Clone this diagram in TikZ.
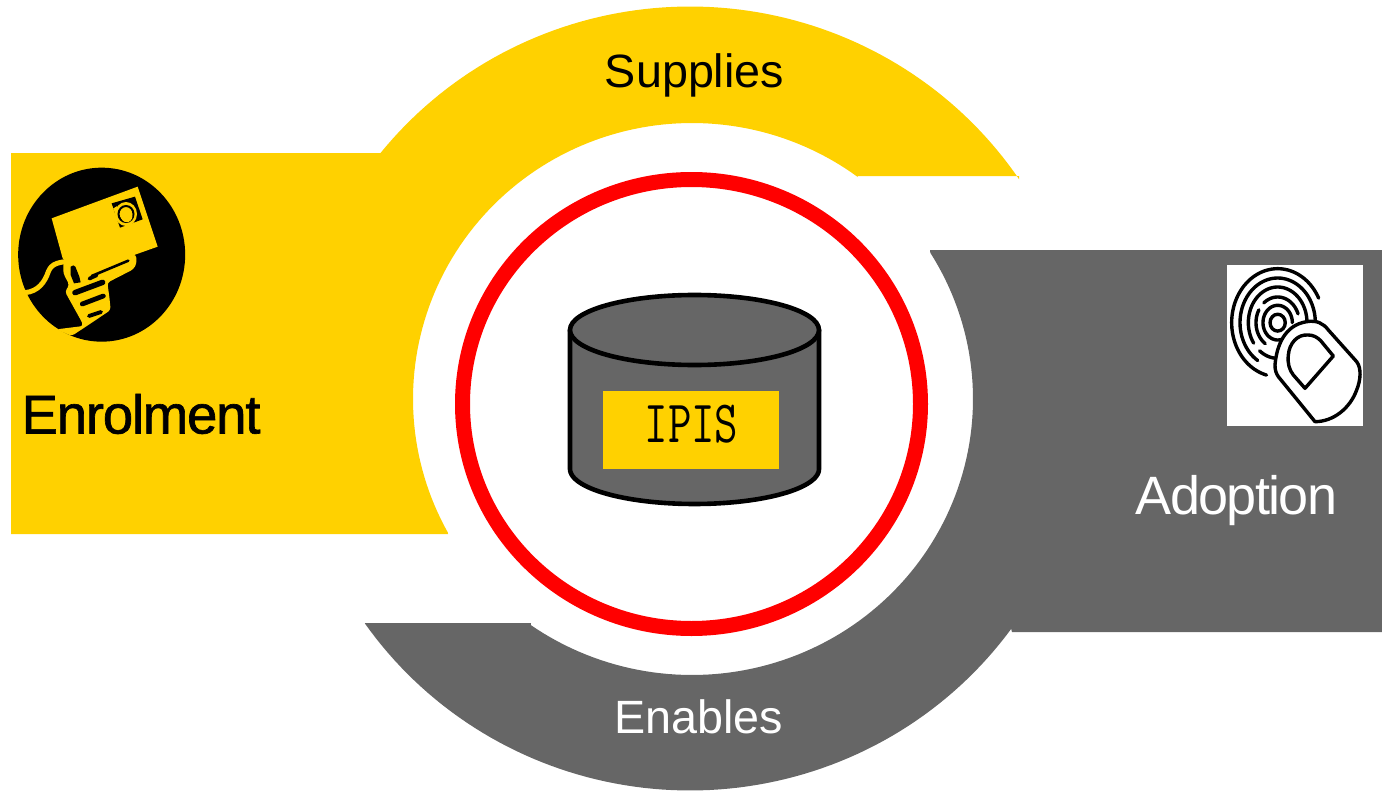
\documentclass[tikz,border=0pt]{standalone}
\usepackage{fontspec}
\setmainfont{Liberation Sans}
\newfontfamily\fakeb[FakeBold=1.2,LetterSpace=-2.2]{Liberation Sans}
\newfontfamily\fakec[LetterSpace=-3.2]{Liberation Sans}
\definecolor{ipisyellow}{HTML}{FFD100}
\definecolor{ipisgray}{HTML}{666666}
\tikzset{
  band/.style={fill=#1,draw=none},
  lab/.style={inner sep=0pt,anchor=center,font=\fontsize{46.7}{50}\selectfont},
  big/.style={inner sep=0pt,anchor=center},
  print/.style={draw=black,line width=3.4pt,line cap=round},
  bline/.style={draw=black,line cap=round,line join=round},
}
\begin{document}
\begin{tikzpicture}[x=1pt,y=-1pt]
\useasboundingbox (0,0) rectangle (1382,792);
% yellow band
\path[band=ipisyellow] (11,153) -- (380,153)
  -- plot[domain=141.3:34,samples=80] ({690+397*cos(\x)},{398.5-392*sin(\x)})
  -- (1019,176) -- (857,176)
  -- plot[domain=53.5:209,samples=100] ({692+279*cos(\x)},{399-276*sin(\x)})
  -- (448,534) -- (11,534) -- cycle;
% gray band
\path[band=ipisgray] (1382,250) -- (930,250)
  -- plot[domain=32:-125,samples=100] ({692+281*cos(\x)},{399-276*sin(\x)})
  -- (531,623) -- (366,623)
  -- plot[domain=215:324,samples=80] ({690+397*cos(\x)},{398.5-392*sin(\x)})
  -- (1012,632) -- (1382,632) -- cycle;
% ring
\draw[red,line width=15pt] (691.5,404) ellipse[x radius=229pt,y radius=224.5pt];
% cylinder
\path[fill=ipisgray,draw=black,line width=4.6pt,line join=round]
  (570,330) -- (570,469)
  -- plot[domain=180:360,samples=60] ({694.5+124.5*cos(\x)},{469-35*sin(\x)})
  -- (819,330) -- cycle;
\draw[fill=ipisgray,draw=black,line width=4.6pt] (694.5,330) ellipse[x radius=124.5pt,y radius=35pt];
\path[fill=ipisyellow] (603,391) rectangle (779,469);
\node[inner sep=0pt,xscale=0.76] (ipis) at (691.5,424) {\fontsize{60}{62}\selectfont\ttfamily IPIS};
% labels
\node[lab] (supplies) at (694.5,75) {Supplies};
\node[lab,white] (enables) at (698.5,717) {Enables};
\node[big] (enrolment) at (141,414) {\fakeb\fontsize{54.5}{58}\selectfont Enrolment};
\node[big,white] (adoption) at (1236.5,501) {\fakec\fontsize{54}{58}\selectfont Adoption};
% enrolment icon
\begin{scope}[shift={(0,150)},x=0.33333pt,y=-0.33333pt]
  \fill[black] (305,314) ellipse[x radius=83.5pt,y radius=87pt];
  % card
  \fill[ipisyellow] (155,205) -- (413,110) -- (473,290) -- (408,313)
     -- (240,370) -- (188,325) -- cycle;
  % arm
  \draw[ipisyellow,line width=5pt,line cap=butt,line join=round] (74,428)
     .. controls (115,425) and (135,395) .. (145,365)
     .. controls (155,340) and (175,335) .. (230,332);
  % hand
  \fill[ipisyellow,rounded corners=3pt] (190,335) -- (190,370) -- (208,405) -- (195,425) -- (245,515)
     -- (250,528) -- (170,538) -- (215,558) -- (265,525) -- (332,480) -- (328,440)
     -- (322,398) -- (400,358) -- (410,340) -- (408,313)
     -- (240,345) -- cycle;
  % black details
  \fill[black] (212,350) .. controls (218,345) and (224,345) .. (226,350)
     -- (238,380) -- (242,397) -- (222,400) -- (212,375) -- cycle;
  \draw[bline,line width=2.6pt] (275,378) -- (385,332);
  \draw[bline,line width=3.6pt] (268,386) -- (290,376);
  \draw[bline,line width=5.5pt] (225,428) -- (308,397);
  \draw[bline,line width=4.8pt] (247,462) -- (310,438);
  \draw[bline,line width=3.8pt] (267,498) -- (303,486);
  % card symbol
  \fill[black] (335,160) -- (405,140) -- (428,208) -- (360,233) -- cycle;
  \fill[ipisyellow] (378,192) ellipse[x radius=11pt,y radius=12pt];
  \fill[ipisyellow] (340,175) -- (352,168) -- (356,196) -- (348,200) -- cycle;
  \draw[black,line width=2pt] (378,192) ellipse[x radius=7.5pt,y radius=8pt];
  \fill[ipisyellow] (380,198) ellipse[x radius=5.8pt,y radius=6.2pt];
\end{scope}
% adoption icon
\path[fill=white] (1227,265) rectangle (1363,426);
\begin{scope}[shift={(1210,250)},x=0.33333pt,y=-0.33333pt]
  \def\ecx{203}\def\ecy{218}
  \draw[print] plot[domain=27:256,samples=70] ({\ecx+138*cos(\x)},{\ecy-162*sin(\x)});
  \draw[print] plot[domain=0:238,samples=60] ({\ecx+113*cos(\x)},{\ecy-134*sin(\x)});
  \draw[print] plot[domain=0:215,samples=50] ({\ecx+88*cos(\x)},{\ecy-107*sin(\x)});
  \draw[print] plot[domain=232:275,samples=20] ({\ecx+88*cos(\x)},{\ecy-107*sin(\x)});
  \draw[print] plot[domain=20:130,samples=30] ({\ecx+65*cos(\x)},{\ecy-77*sin(\x)});
  \draw[print] plot[domain=150:235,samples=30] ({\ecx+65*cos(\x)},{\ecy-77*sin(\x)});
  \draw[print] plot[domain=0:285,samples=60] ({\ecx+44*cos(\x)},{\ecy-52*sin(\x)});
  \draw[print] (\ecx,\ecy) ellipse[x radius=7.6pt,y radius=8.4pt];
  \path[fill=white,draw=black,line width=3.4pt,line join=round]
     (195,345) .. controls (200,285) and (225,225) .. (290,215)
     .. controls (320,210) and (340,220) .. (355,240)
     -- (440,335) .. controls (455,355) and (452,390) .. (440,420)
     .. controls (420,475) and (370,515) .. (315,515)
     -- (205,380) .. controls (198,370) and (195,360) .. (195,345) -- cycle;
  \draw[draw=black,line width=3.4pt,line join=round]
     (235,315) .. controls (238,280) and (262,252) .. (295,255)
     .. controls (310,255) and (322,262) .. (332,272)
     -- (370,318) -- (285,415) -- (250,375)
     .. controls (238,360) and (232,340) .. (235,315) -- cycle;
\end{scope}
\end{tikzpicture}
\end{document}
